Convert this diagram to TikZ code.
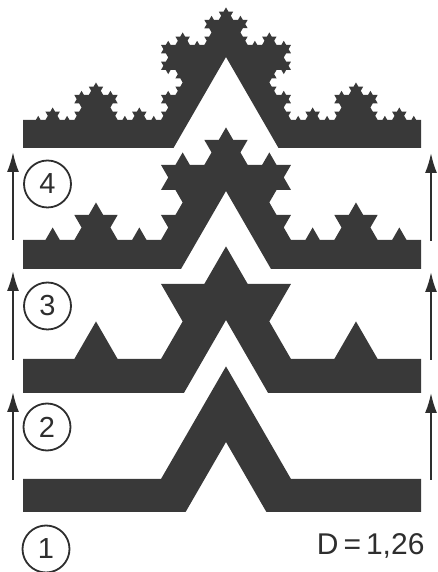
\documentclass[tikz,border=0pt]{standalone}
\usepackage{fontspec}
\setmainfont{Liberation Sans}
\usetikzlibrary{decorations.fractals,arrows.meta}
\definecolor{ink}{HTML}{2E2E2E}
\definecolor{bandgray}{HTML}{393939}
\tikzset{
  band/.style={fill=bandgray, decoration={Koch snowflake}},
  uparrow/.style={draw=ink, line width=2pt, -{Latex[length=20pt,width=12pt]}},
  num/.style={circle, draw=ink, line width=1.8pt, minimum size=47pt, inner sep=0pt, text=ink,
    font=\fontsize{29}{34}\selectfont},
}
\begin{document}
\begin{tikzpicture}[x=1pt,y=1pt]
\useasboundingbox (0,0) rectangle (438,572);
% bands, bottom edge with notch, top edge Koch curve
\fill[band] (31,93) decorate{(31,93) -- (421,93)} -- (421,60)
  -- (266.4,60) -- (226,130) -- (185.6,60) -- (23,60) -- (23,93) -- cycle;
\fill[band] (31,213) decorate{decorate{(31,213) -- (421,213)}} -- (421,179)
  -- (268.1,179) -- (226,252) -- (183.9,179) -- (23,179) -- (23,213) -- cycle;
\fill[band] (31,332) decorate{decorate{decorate{(31,332) -- (421,332)}}} -- (421,303)
  -- (271,303) -- (226,381) -- (181,303) -- (23,303) -- (23,332) -- cycle;
\fill[band] (31,452) decorate{decorate{decorate{decorate{(31,452) -- (421,452)}}}} -- (421,424)
  -- (278.5,424) -- (226,515) -- (173.5,424) -- (23,424) -- (23,452) -- cycle;

% arrows between the stages
\coordinate (l1a) at (13,92);  \coordinate (l1b) at (13,180);
\coordinate (l2a) at (13,212); \coordinate (l2b) at (13,301);
\coordinate (l3a) at (13,332); \coordinate (l3b) at (13,420);
\coordinate (r1a) at (431,92);  \coordinate (r1b) at (431,179);
\coordinate (r2a) at (431,212); \coordinate (r2b) at (431,300);
\coordinate (r3a) at (431,331); \coordinate (r3b) at (431,419);
\foreach \s in {l,r}
  \foreach \i in {1,2,3}
    \draw[uparrow] (\s\i a) -- (\s\i b);

% stage numbers
\node[num] (st1) at (46,23) {1};
\node[num] (st2) at (47,145) {2};
\node[num] (st3) at (47.5,266) {3};
\node[num] (st4) at (47.5,388) {4};
\node[anchor=base east, text=ink, font=\fontsize{30}{36}\selectfont] (dim) at (428,17) {D\,=\,1,26};
\end{tikzpicture}
\end{document}
